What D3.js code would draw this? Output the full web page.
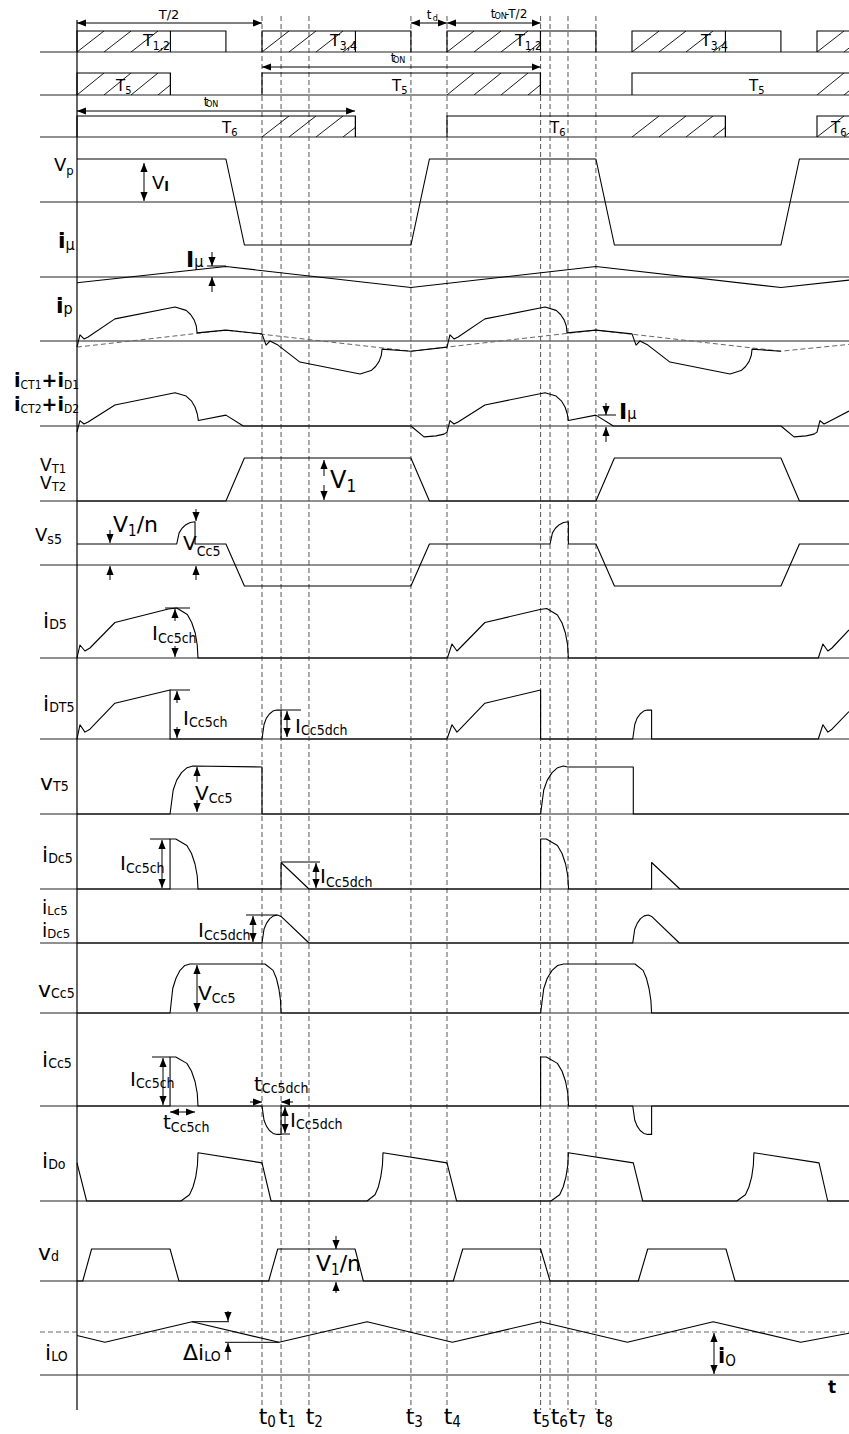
<!DOCTYPE html>
<html lang="en">
<head>
<meta charset="UTF-8">
<title>Waveforms</title>
<script src="https://d3js.org/d3.v7.min.js"></script>
<style>
  body { margin: 0; background: #fff; }
  svg { display: block; font-family: "DejaVu Sans", Verdana, sans-serif; }
  .base { stroke: #222; stroke-width: 1.1; }
  .wave { fill: none; stroke: #000; stroke-width: 1.1; stroke-linejoin: round; }
  .vdash { stroke: #555; stroke-width: 1; stroke-dasharray: 5,3; }
  .hdash { fill: none; stroke: #666; stroke-width: 1; stroke-dasharray: 5,3; }
  .ann { stroke: #000; stroke-width: 1; }
  .gate { fill: none; stroke: #000; stroke-width: 1.1; }
  .sub { font-stretch: condensed; }
</style>
</head>
<body>
<div id="chart"></div>
<script>
// time unit: T/2 = 10
const eventT = [10, 11.03, 12.54, 18.05, 20, 25.06, 25.57, 26.54, 28.05];
const eventNames = ["0", "1", "2", "3", "4", "5", "6", "7", "8"];

// gate signals (on, hatch start, off)
const g12On = [0, 10, 20, 30, 40];
const g12HatchStart = [0, 10, 20, 30, 40];
const g12HatchEnd = [5.05, 15.05, 25.05, 35.05, 45.05];
const g12Off = [8.05, 18.05, 28.05, 38.05, 48.05];
const g5On = [0, 10, 30];
const g5HatchStart = [0, 20, 40];
const g5Off = [5.05, 25.05, 45.05];
const g6On = [0, 20, 40];
const g6HatchStart = [10, 30, 40];
const g6Off = [15.05, 35.05, 55.05];

// waveforms: time / normalised value
const vpT = [0, 8.05, 9.05, 18.05, 19.05, 28.05, 29.05, 38.05, 39.05, 41.73];
const vpV = [1, 1, -1, -1, 1, 1, -1, -1, 1, 1];

const imuT = [0, 8.05, 18.05, 28.05, 38.05, 41.73];
const imuV = [-0.55, 1, -1, 1, -1, -0.3];

const ipT = [0, 0.16, 0.38, 0.6, 2.05, 5.3, 5.9, 6.14, 6.33, 6.45, 6.49, 8.05, 10, 10.22, 10.43, 10.86, 12.05, 15.3, 15.9, 16.14, 16.33, 16.45, 16.49, 18.05,
  20, 20.16, 20.38, 20.6, 22.05, 25.3, 25.9, 26.14, 26.33, 26.45, 26.49, 28.05, 30, 30.22, 30.43, 30.86, 32.05, 35.3, 35.9, 36.14, 36.33, 36.45, 36.49, 38.05];
const ipV = [-0.18, 0.18, 0.06, 0.12, 0.65, 1.0, 0.9, 0.78, 0.62, 0.44, 0.24, 0.32, 0.21, -0.12, 0, -0.12, -0.62, -0.97, -0.87, -0.75, -0.6, -0.42, -0.24, -0.3,
  -0.18, 0.18, 0.06, 0.12, 0.65, 1.0, 0.9, 0.78, 0.62, 0.44, 0.24, 0.32, 0.21, -0.12, 0, -0.12, -0.62, -0.97, -0.87, -0.75, -0.6, -0.42, -0.24, -0.3];
const ipMuT = [0, 8.05, 18.05, 28.05, 38.05, 41.73];
const ipMuV = [-0.18, 0.32, -0.3, 0.32, -0.3, -0.1];

const ictT = [0, 0.16, 0.38, 0.6, 2.05, 5.3, 5.9, 6.18, 6.38, 6.5, 6.56, 8.05, 8.99, 18.05, 18.76, 19.41, 19.84, 20,
  20.16, 20.38, 20.6, 22.05, 25.3, 25.9, 26.18, 26.38, 26.5, 26.56, 28.05, 28.99, 38.05, 38.76, 39.41, 39.84, 40,
  40.16, 40.38, 40.6, 41.73];
const ictV = [-0.17, 0.16, 0.06, 0.12, 0.62, 0.98, 0.88, 0.74, 0.56, 0.36, 0.16, 0.32, 0, 0, -0.32, -0.29, -0.24, -0.18,
  0.16, 0.06, 0.12, 0.62, 0.98, 0.88, 0.74, 0.56, 0.36, 0.16, 0.32, 0, 0, -0.32, -0.29, -0.24, -0.18,
  0.16, 0.06, 0.12, 0.44];

const vtT = [0, 8.05, 9.05, 18.05, 19.05, 28.05, 29.05, 38.05, 39.05, 41.73];
const vtV = [0, 0, 1, 1, 0, 0, 1, 1, 0, 0];

const vs5T = [0, 5.39, 5.52, 5.68, 5.885, 6.12, 6.38, 6.38, 8.05, 9.05, 18.05, 19.05, 25.57, 25.7, 25.86, 26.07, 26.3, 26.56, 26.56, 28.05, 29.05, 38.05, 39.05, 41.73];
const vs5V = [1, 1, 1.53, 1.75, 1.92, 2.02, 2.06, 1, 1, -1, -1, 1, 1, 1.53, 1.75, 1.92, 2.02, 2.06, 1, 1, -1, -1, 1, 1];

const id5T = [0, 0.16, 0.43, 0.7, 2.05, 4.94, 5.39, 5.965, 6.2, 6.39, 6.5, 6.54, 20.02, 20.27, 20.54, 20.7, 22.05, 25.03, 25.39, 25.97, 26.22, 26.4, 26.52, 26.56, 40.07, 40.32, 40.59, 40.81, 41.73];
const id5V = [0, 0.26, 0.14, 0.2, 0.71, 0.98, 1.0, 0.87, 0.71, 0.5, 0.26, 0, 0, 0.28, 0.14, 0.2, 0.71, 0.97, 0.99, 0.86, 0.7, 0.5, 0.26, 0, 0, 0.28, 0.14, 0.2, 0.56];

const idt5T = [0, 0.16, 0.43, 0.7, 2.05, 5.03, 5.03, 10, 10.11, 10.23, 10.4, 10.59, 10.79, 11.03, 11.03,
  20.0, 20.27, 20.54, 20.7, 22.05, 25.06, 25.06, 30.04, 30.15, 30.27, 30.44, 30.63, 30.83, 31.06, 31.06,
  40.07, 40.32, 40.59, 40.81, 41.73];
const idt5V = [0, 0.29, 0.14, 0.2, 0.73, 1.0, 0, 0, 0.295, 0.42, 0.51, 0.57, 0.59, 0.59, 0,
  0, 0.29, 0.14, 0.2, 0.73, 1.0, 0, 0, 0.295, 0.42, 0.51, 0.57, 0.59, 0.59, 0,
  0, 0.29, 0.14, 0.2, 0.56];

const vt5T = [0, 5.03, 5.2, 5.39, 5.65, 5.95, 6.27, 10, 10, 25.06, 25.23, 25.42, 25.68, 25.98, 26.29, 26.52, 30.07, 30.07, 41.73];
const vt5V = [0, 0, 0.51, 0.72, 0.88, 0.985, 1.02, 1.0, 0, 0, 0.51, 0.72, 0.88, 0.985, 1.02, 1.0, 1.0, 0, 0];

const idc5T = [0, 5.03, 5.03, 5.34, 5.94, 6.19, 6.38, 6.5, 6.54, 11.03, 11.03, 12.54, 25.06, 25.06, 25.37, 25.97, 26.22, 26.41, 26.53, 26.57, 31.06, 31.06, 32.59, 41.73];
const idc5V = [0, 0, 1, 1, 0.87, 0.71, 0.5, 0.26, 0, 0, 0.53, 0, 0, 1, 1, 0.87, 0.71, 0.5, 0.26, 0, 0, 0.53, 0, 0];

const ilc5T = [0, 10, 10.11, 10.25, 10.42, 10.62, 10.84, 11.03, 12.54, 30.04, 30.15, 30.29, 30.46, 30.66, 30.88, 31.06, 32.56, 41.73];
const ilc5V = [0, 0, 0.5, 0.71, 0.87, 0.97, 1.0, 0.95, 0, 0, 0.5, 0.71, 0.87, 0.97, 1.0, 0.95, 0, 0];

const vcc5T = [0, 5.03, 5.175, 5.35, 5.57, 5.83, 6.11, 10.16, 10.6, 10.775, 10.91, 11.0, 11.03, 25.06, 25.23, 25.42, 25.68, 25.98, 26.3, 30.16, 30.6, 30.78, 30.92, 31.02, 31.06, 41.73];
const vcc5V = [0, 0, 0.5, 0.71, 0.87, 0.97, 1.0, 1.0, 0.87, 0.71, 0.5, 0.26, 0, 0, 0.5, 0.71, 0.87, 0.97, 1.0, 1.0, 0.87, 0.71, 0.5, 0.26, 0, 0];

const icc5T = [0, 5.03, 5.03, 5.34, 5.94, 6.19, 6.38, 6.5, 6.54, 10, 10.11, 10.24, 10.4, 10.6, 10.81, 11.03, 11.03,
  25.06, 25.06, 25.37, 25.97, 26.22, 26.41, 26.53, 26.57, 30.04, 30.15, 30.28, 30.44, 30.64, 30.85, 31.06, 31.06, 41.73];
const icc5V = [0, 0, 1, 1, 0.87, 0.71, 0.5, 0.26, 0, 0, -0.29, -0.41, -0.5, -0.56, -0.58, -0.58, 0,
  0, 1, 1, 0.87, 0.71, 0.5, 0.26, 0, 0, -0.29, -0.41, -0.5, -0.56, -0.58, -0.58, 0, 0];

const idoT = [0, 0.52, 5.62, 6.08, 6.27, 6.42, 6.51, 6.54, 10, 10.49, 15.68, 16.11, 16.29, 16.42, 16.51, 16.54,
  20, 20.52, 25.62, 26.09, 26.28, 26.43, 26.53, 26.56, 30.07, 30.58, 35.66, 36.13, 36.32, 36.47, 36.56, 36.59, 40.11, 40.58, 41.73];
const idoV = [0.79, 0, 0, 0.13, 0.29, 0.5, 0.74, 1.0, 0.79, 0, 0, 0.13, 0.29, 0.5, 0.74, 1.0,
  0.79, 0, 0, 0.13, 0.29, 0.5, 0.74, 1.0, 0.79, 0, 0, 0.13, 0.29, 0.5, 0.74, 1.0, 0.79, 0, 0];

const vdT = [0, 0.31, 0.79, 5.03, 5.51, 10.36, 10.85, 15.03, 15.48, 20.34, 20.85, 25.06, 25.57, 30.34, 30.85, 35.08, 35.57, 41.73];
const vdV = [0, 0, 1, 1, 0, 0, 1, 1, 0, 0, 1, 1, 0, 0, 1, 1, 0, 0];

const iloT = [0, 1.51, 6.22, 10.92, 15.68, 20.29, 25.06, 29.75, 34.39, 39.12, 41.73];
const iloV = [0.92, 0.76, 1.24, 0.76, 1.24, 0.76, 1.24, 0.76, 1.24, 0.76, 0.97];

// ---- layout ----
const W = 849, H = 1434;
const svg = d3.select("#chart").append("svg").attr("width", W).attr("height", H);
const x = d3.scaleLinear().domain([0, 41.73]).range([77, 849]);

const rows = {
  g12: {base: 52, amp: 21}, g5: {base: 95, amp: 22}, g6: {base: 137, amp: 21},
  vp: {base: 202, amp: 43}, imu: {base: 277, amp: 10.5}, ip: {base: 341, amp: 34},
  ict: {base: 426, amp: 34}, vt: {base: 501, amp: 43}, vs5: {base: 565, amp: 21},
  id5: {base: 658, amp: 50}, idt5: {base: 739, amp: 49}, vt5: {base: 814, amp: 47},
  idc5: {base: 889, amp: 50}, ilc5: {base: 943, amp: 28}, vcc5: {base: 1013, amp: 49},
  icc5: {base: 1106, amp: 49}, ido: {base: 1201, amp: 48.3}, vd: {base: 1281, amp: 32},
  ilo: {base: 1375, amp: 43}
};
Object.values(rows).forEach(r => {
  r.y = d3.scaleLinear().domain([0, 1]).range([r.base, r.base - r.amp]);
});

const defs = svg.append("defs");
defs.append("marker").attr("id", "ah")
  .attr("viewBox", "0 0 10 8").attr("refX", 10).attr("refY", 4)
  .attr("markerWidth", 9).attr("markerHeight", 7.2)
  .attr("markerUnits", "userSpaceOnUse").attr("orient", "auto-start-reverse")
  .append("path").attr("d", "M0,0L10,4L0,8z").attr("fill", "#000");

// baselines
svg.append("g").selectAll("line").data(Object.values(rows)).join("line")
  .attr("class", "base")
  .attr("x1", 40).attr("x2", W)
  .attr("y1", d => d.base).attr("y2", d => d.base);

// Io level
svg.append("line").attr("class", "hdash")
  .attr("x1", 40).attr("x2", W)
  .attr("y1", rows.ilo.y(1)).attr("y2", rows.ilo.y(1));

// event dashed lines
svg.append("g").selectAll("line").data(eventT).join("line")
  .attr("class", "vdash")
  .attr("x1", d => x(d)).attr("x2", d => x(d))
  .attr("y1", 16).attr("y2", 1410);

// vertical axis
svg.append("line").attr("x1", x(0)).attr("x2", x(0)).attr("y1", 20).attr("y2", 1410)
  .attr("stroke", "#000").attr("stroke-width", 1.2);

// gates
let hatchId = 0;
function gate(row, on, hs, he, off) {
  const r = rows[row];
  const top = r.y(1), h = r.base - top;
  const g = svg.append("g");
  on.forEach((t0, i) => {
    const x1 = x(t0), x2 = x(off[i]);
    const hx1 = x(hs[i]), hx2 = x(he[i]);
    const id = "hatch" + (hatchId++);
    const p = defs.append("pattern").attr("id", id)
      .attr("patternUnits", "userSpaceOnUse")
      .attr("x", hx1).attr("y", top).attr("width", 27).attr("height", h);
    p.append("line").attr("x1", 0).attr("y1", h).attr("x2", 27).attr("y2", 0)
      .attr("stroke", "#000").attr("stroke-width", 0.9);
    g.append("rect").attr("x", hx1).attr("y", top)
      .attr("width", Math.max(0, hx2 - hx1)).attr("height", h)
      .attr("fill", `url(#${id})`);
    g.append("line").attr("class", "gate")
      .attr("x1", hx2).attr("x2", hx2).attr("y1", top).attr("y2", r.base);
    g.append("path").attr("class", "gate")
      .attr("d", `M${x1},${r.base}V${top}H${x2}V${r.base}`);
  });
}
gate("g12", g12On, g12HatchStart, g12HatchEnd, g12Off);
gate("g5", g5On, g5HatchStart, g5Off, g5Off);
gate("g6", g6On, g6HatchStart, g6Off, g6Off);

// waves
function wave(row, ts, vs, cls) {
  const r = rows[row];
  const line = d3.line().x(d => x(d[0])).y(d => r.y(d[1]));
  svg.append("path").attr("class", cls || "wave")
    .attr("d", line(ts.map((t, i) => [t, vs[i]])));
}
wave("vp", vpT, vpV);
wave("imu", imuT, imuV);
wave("ip", ipMuT, ipMuV, "hdash");
wave("ip", ipT, ipV);
wave("ict", ictT, ictV);
wave("vt", vtT, vtV);
wave("vs5", vs5T, vs5V);
wave("id5", id5T, id5V);
wave("idt5", idt5T, idt5V);
wave("vt5", vt5T, vt5V);
wave("idc5", idc5T, idc5V);
wave("ilc5", ilc5T, ilc5V);
wave("vcc5", vcc5T, vcc5V);
wave("icc5", icc5T, icc5V);
wave("ido", idoT, idoV);
wave("vd", vdT, vdV);
wave("ilo", iloT, iloV);

// annotation arrows [x1,y1,x2,y2,both]
const arrows = [
  [x(0), 23, x(10), 23, 1], [x(18.05), 23, x(20), 23, 1], [x(20), 23, x(25.06), 23, 1],
  [x(10), 67, x(25.06), 67, 1], [x(0), 111, x(15.03), 111, 1],
  [144, 163, 144, 201, 1],
  [212, 252, 212, 266, 0], [212, 292, 212, 277, 0],
  [606, 403, 606, 415, 0], [606, 442, 606, 427, 0],
  [324, 476, 324, 460, 0], [324, 485, 324, 500, 0],
  [110, 530, 110, 543, 0], [110, 580, 110, 566, 0], [196, 509, 196, 521, 0], [196, 580, 196, 566, 0],
  [175, 621, 175, 609, 0], [175, 646, 175, 657, 0],
  [177, 703, 177, 691, 0], [177, 727, 177, 738, 0], [287, 711, 287, 737, 1],
  [197, 782, 197, 767, 0], [197, 800, 197, 812, 0],
  [162, 840, 162, 888, 1], [316, 863, 316, 888, 1],
  [253, 916, 253, 942, 1],
  [197, 965, 197, 1012, 1],
  [163, 1058, 163, 1105, 1], [170, 1112, 195, 1112, 1], [250, 1102, 262, 1102, 0], [293, 1102, 281, 1102, 0], [285, 1107, 285, 1133, 1],
  [336, 1236, 336, 1249, 0], [336, 1293, 336, 1282, 0],
  [228, 1311, 228, 1321, 0], [228, 1360, 228, 1343, 0], [714, 1333, 714, 1374, 1]
];
svg.append("g").selectAll("line").data(arrows).join("line")
  .attr("class", "ann")
  .attr("x1", d => d[0]).attr("y1", d => d[1]).attr("x2", d => d[2]).attr("y2", d => d[3])
  .attr("marker-end", "url(#ah)")
  .attr("marker-start", d => d[4] ? "url(#ah)" : null);

const ticks = [
  [207, 266, 226, 266], [598, 415, 616, 415],
  [165, 608, 190, 608], [170, 690, 190, 690], [281, 710, 301, 710],
  [150, 839, 170, 839], [281, 862, 320, 862], [246, 915, 277, 915],
  [152, 1057, 170, 1057], [281, 1134, 290, 1134],
  [192, 1321.7, 229, 1321.7], [225, 1342.3, 279, 1342.3]
];
svg.append("g").selectAll("line").data(ticks).join("line")
  .attr("class", "ann")
  .attr("x1", d => d[0]).attr("y1", d => d[1]).attr("x2", d => d[2]).attr("y2", d => d[3]);

// labels
function label(s) {
  const t = svg.append("text").attr("x", s.x).attr("y", s.y)
    .attr("text-anchor", s.anchor || "start").attr("fill", "#000");
  s.parts.forEach(([txt, kind], i) => {
    const ts = t.append("tspan").text(txt);
    if (s.gap && i > 0) ts.attr("dx", s.gap);
    if (kind === "s" || kind === "sb") {
      ts.attr("font-size", s.sub).attr("y", s.y + (s.shift == null ? 3 : s.shift)).attr("class", "sub");
      if (kind === "sb") ts.attr("font-weight", "bold");
    } else {
      ts.attr("font-size", s.size).attr("y", s.y).attr("font-weight", kind === "b" ? "bold" : "normal");
    }
  });
}
const I = (n) => [["I", "m"], [n, "s"]];
const labels = [
  {x: 169, y: 19, size: 13, anchor: "middle", parts: [["T/2", "m"]]},
  {x: 429, y: 19, size: 12, sub: 9, shift: 2, gap: 1.5, anchor: "middle", parts: [["t", "m"], ["d", "s"]]},
  {x: 493, y: 18, size: 12, sub: 9, shift: 1, gap: 3, anchor: "middle", parts: [["t", "m"], ["ON", "s"], ["-T/2", "m"]]},
  {x: 393, y: 62, size: 12, sub: 9, shift: 1, gap: 1.5, anchor: "middle", parts: [["t", "m"], ["ON", "s"]]},
  {x: 206, y: 106, size: 12, sub: 9, shift: 1, gap: 1.5, anchor: "middle", parts: [["t", "m"], ["ON", "s"]]},
  {x: 143, y: 46, size: 16, sub: 12, shift: 4, parts: [["T", "m"], ["1,2", "s"]]},
  {x: 330, y: 46, size: 16, sub: 12, shift: 4, parts: [["T", "m"], ["3,4", "s"]]},
  {x: 515, y: 46, size: 16, sub: 12, shift: 4, parts: [["T", "m"], ["1,2", "s"]]},
  {x: 701, y: 46, size: 16, sub: 12, shift: 4, parts: [["T", "m"], ["3,4", "s"]]},
  {x: 116, y: 91, size: 15, sub: 11, shift: 3, parts: [["T", "m"], ["5", "s"]]},
  {x: 392, y: 91, size: 15, sub: 11, shift: 3, parts: [["T", "m"], ["5", "s"]]},
  {x: 749, y: 91, size: 15, sub: 11, shift: 3, parts: [["T", "m"], ["5", "s"]]},
  {x: 222, y: 133, size: 15, sub: 11, shift: 3, parts: [["T", "m"], ["6", "s"]]},
  {x: 550, y: 133, size: 15, sub: 11, shift: 3, parts: [["T", "m"], ["6", "s"]]},
  {x: 831, y: 133, size: 15, sub: 11, shift: 3, parts: [["T", "m"], ["6", "s"]]},
  // row names
  {x: 54, y: 171, size: 18, sub: 13, shift: 4, parts: [["V", "m"], ["p", "s"]]},
  {x: 58, y: 248, size: 22, sub: 16, shift: 2, parts: [["i", "b"], ["μ", "s"]]},
  {x: 56, y: 313, size: 22, sub: 16, shift: 1, parts: [["i", "b"], ["p", "s"]]},
  {x: 14, y: 387, size: 19, sub: 12, shift: 2, parts: [["i", "b"], ["CT1", "s"], ["+", "b"], ["i", "b"], ["D1", "s"]]},
  {x: 14, y: 411, size: 19, sub: 12, shift: 2, parts: [["i", "b"], ["CT2", "s"], ["+", "b"], ["i", "b"], ["D2", "s"]]},
  {x: 40, y: 471, size: 17, sub: 13, shift: 2, parts: [["V", "m"], ["T1", "s"]]},
  {x: 40, y: 489, size: 17, sub: 13, shift: 2, parts: [["V", "m"], ["T2", "s"]]},
  {x: 35, y: 541, size: 18, sub: 14, shift: 3, parts: [["V", "m"], ["s5", "s"]]},
  {x: 43, y: 628, size: 22, sub: 14, shift: 1, parts: [["i", "m"], ["D5", "s"]]},
  {x: 43, y: 711, size: 22, sub: 14, shift: 1, parts: [["i", "m"], ["DT5", "s"]]},
  {x: 40, y: 790, size: 22, sub: 14, shift: 1, parts: [["v", "m"], ["T5", "s"]]},
  {x: 42, y: 862, size: 22, sub: 14, shift: 1, parts: [["i", "m"], ["Dc5", "s"]]},
  {x: 42, y: 914, size: 19, sub: 13, shift: 1, parts: [["i", "m"], ["Lc5", "s"]]},
  {x: 42, y: 937, size: 19, sub: 13, shift: 1, parts: [["i", "m"], ["Dc5", "s"]]},
  {x: 38, y: 997, size: 22, sub: 14, shift: 1, parts: [["v", "m"], ["Cc5", "s"]]},
  {x: 42, y: 1067, size: 22, sub: 14, shift: 1, parts: [["i", "m"], ["Cc5", "s"]]},
  {x: 42, y: 1168, size: 22, sub: 14, shift: 1, parts: [["i", "m"], ["Do", "s"]]},
  {x: 38, y: 1260, size: 22, sub: 14, shift: 1, parts: [["v", "m"], ["d", "s"]]},
  {x: 45, y: 1360, size: 22, sub: 14, shift: 1, parts: [["i", "m"], ["LO", "s"]]},
  // annotations
  {x: 152, y: 189, size: 18, sub: 14, shift: 2, parts: [["V", "m"], ["I", "sb"]]},
  {x: 186, y: 267, size: 22, sub: 16, shift: 0, parts: [["I", "b"], ["μ", "s"]]},
  {x: 619, y: 419, size: 22, sub: 16, shift: 0, parts: [["I", "b"], ["μ", "s"]]},
  {x: 330, y: 488, size: 24, sub: 17, shift: 4, parts: [["V", "m"], ["1", "s"]]},
  {x: 113, y: 532, size: 22, sub: 15, shift: 4, parts: [["V", "m"], ["1", "s"], ["/n", "m"]]},
  {x: 183, y: 550, size: 20, sub: 14, shift: 6, parts: [["V", "m"], ["Cc5", "s"]]},
  {x: 152, y: 640, size: 20, sub: 14, shift: 3, parts: I("Cc5ch")},
  {x: 183, y: 725, size: 20, sub: 14, shift: 2, parts: I("Cc5ch")},
  {x: 295, y: 733, size: 20, sub: 14, shift: 2, parts: I("Cc5dch")},
  {x: 195, y: 800, size: 20, sub: 14, shift: 3, parts: [["V", "m"], ["Cc5", "s"]]},
  {x: 120, y: 870, size: 20, sub: 14, shift: 3, parts: I("Cc5ch")},
  {x: 320, y: 883, size: 20, sub: 14, shift: 4, parts: I("Cc5dch")},
  {x: 198, y: 937, size: 20, sub: 14, shift: 3, parts: I("Cc5dch")},
  {x: 198, y: 1000, size: 20, sub: 14, shift: 3, parts: [["V", "m"], ["Cc5", "s"]]},
  {x: 130, y: 1086, size: 20, sub: 14, shift: 2, parts: I("Cc5ch")},
  {x: 163, y: 1129, size: 20, sub: 14, shift: 3, parts: [["t", "m"], ["Cc5ch", "s"]]},
  {x: 254, y: 1091, size: 20, sub: 14, shift: 2, parts: [["t", "m"], ["Cc5dch", "s"]]},
  {x: 290, y: 1127, size: 20, sub: 14, shift: 2, parts: I("Cc5dch")},
  {x: 316, y: 1271, size: 22, sub: 15, shift: 4, parts: [["V", "m"], ["1", "s"], ["/n", "m"]]},
  {x: 183, y: 1360, size: 22, sub: 14, shift: 1, parts: [["Δi", "m"], ["LO", "s"]]},
  {x: 718, y: 1363, size: 21, sub: 15, shift: 3, parts: [["i", "b"], ["O", "s"]]},
  {x: 828, y: 1393, size: 17, parts: [["t", "b"]]}
];
labels.forEach(label);

// event labels
const eventLabelX = [263, 283, 310, 410, 448, 537, 555, 573, 600];
eventT.forEach((t, i) => label({x: eventLabelX[i], y: 1424, size: 22, sub: 15, shift: 3, anchor: "middle",
  parts: [["t", "m"], [eventNames[i], "s"]]}));
</script>
</body>
</html>
